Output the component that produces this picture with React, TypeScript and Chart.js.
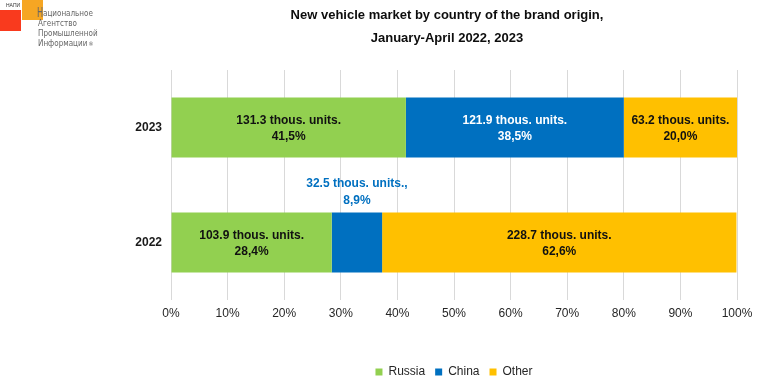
import React, { useEffect, useRef } from "react";
import { Chart, registerables } from "chart.js";

Chart.register(...registerables);

const years = ["2023", "2022"];
const seriesNames = ["Russia", "China", "Other"];
const russiaPct = [41.5, 28.4];
const chinaPct = [38.5, 8.9];
const otherPct = [20.0, 62.6];
const russiaUnits = [131.3, 103.9];
const chinaUnits = [121.9, 32.5];
const otherUnits = [63.2, 228.7];
const seriesColors = ["#92D050", "#0070C0", "#FFC000"];
const insideLabelColors = ["#111111", "#ffffff", "#111111"];
const titleLines = ["New vehicle market by country of the brand origin,", "January-April 2022, 2023"];

const FONT = "'Liberation Sans', Arial, sans-serif";
const unitsBySeries = [russiaUnits, chinaUnits, otherUnits];

const barLabelPlugin = {
  id: "barLabels",
  afterDatasetsDraw(chart: any) {
    const ctx = chart.ctx;
    ctx.save();
    ctx.font = `bold 12px ${FONT}`;
    ctx.textAlign = "center";
    ctx.textBaseline = "middle";
    chart.data.datasets.forEach((ds: any, di: number) => {
      const meta = chart.getDatasetMeta(di);
      meta.data.forEach((bar: any, i: number) => {
        const p = bar.getProps(["x", "y", "base", "height"], true);
        const cx = (p.x + p.base) / 2;
        const w = Math.abs(p.x - p.base);
        const pct = ds.data[i] as number;
        const pctText = pct.toFixed(1).replace(".", ",") + "%";
        let line1 = `${unitsBySeries[di][i].toFixed(1)} thous. units.`;
        if (w < 70) {
          line1 += ",";
          const top = p.y - p.height / 2;
          ctx.fillStyle = seriesColors[di];
          ctx.fillText(line1, cx, top - 29);
          ctx.fillText(pctText, cx, top - 12);
        } else {
          ctx.fillStyle = insideLabelColors[di];
          ctx.fillText(line1, cx, p.y - 7);
          ctx.fillText(pctText, cx, p.y + 9);
        }
      });
    });
    ctx.restore();
  },
};

const LOGO_FONT = "'DejaVu Sans Condensed', 'Liberation Sans Narrow', Arial, sans-serif";

export default function App() {
  const canvasRef = useRef<HTMLCanvasElement | null>(null);

  useEffect(() => {
    document.body.style.margin = "0";
    const canvas = canvasRef.current;
    if (!canvas) return;
    const pctSeries = [russiaPct, chinaPct, otherPct];
    const chart = new Chart(canvas, {
      type: "bar",
      data: {
        labels: years,
        datasets: seriesNames.map((name, k) => ({
          label: name,
          data: pctSeries[k],
          backgroundColor: seriesColors[k],
          borderWidth: 0,
          barPercentage: 0.52,
          categoryPercentage: 1,
        })),
      },
      options: {
        indexAxis: "y",
        responsive: false,
        animation: false,
        layout: { padding: { top: 70, right: 31, left: 0, bottom: -6 } },
        scales: {
          x: {
            stacked: true,
            min: 0,
            max: 100,
            ticks: {
              stepSize: 10,
              callback: (v: any) => `${v}%`,
              font: { size: 12, family: FONT },
              color: "#262626",
              padding: 6,
              maxRotation: 0,
            },
            grid: { color: "#d9d9d9", drawTicks: false, lineWidth: 1 },
            border: { display: false },
            afterFit: (s: any) => {
              s.height = 56;
            },
          },
          y: {
            stacked: true,
            grid: { display: false, drawTicks: false },
            border: { display: false },
            ticks: {
              font: { size: 12, weight: "bold", family: FONT },
              color: "#1a1a1a",
              padding: 9,
            },
            afterFit: (s: any) => {
              s.width = 171;
            },
          },
        },
        plugins: {
          legend: {
            position: "bottom",
            fullSize: false,
            labels: {
              boxWidth: 7,
              boxHeight: 7,
              padding: 10,
              font: { size: 12, family: FONT },
              color: "#262626",
            },
          },
          title: { display: false },
          tooltip: { enabled: false },
        },
      },
      plugins: [barLabelPlugin],
    } as any);
    return () => chart.destroy();
  }, []);

  const logoText: React.CSSProperties = {
    position: "absolute",
    fontFamily: LOGO_FONT,
    fontSize: 8,
    lineHeight: "10px",
    color: "#666666",
    whiteSpace: "nowrap",
  };

  return (
    <div style={{ position: "absolute", left: 0, top: 0, width: 768, height: 382, background: "#fff", overflow: "hidden" }}>
      <canvas ref={canvasRef} width={768} height={382} style={{ display: "block" }} />
      <div
        style={{
          position: "absolute",
          left: 0,
          top: 3,
          width: 894,
          textAlign: "center",
          fontFamily: FONT,
          fontWeight: "bold",
          fontSize: 13,
          lineHeight: "23px",
          color: "#0d0d0d",
        }}
      >
        {titleLines.map((t) => (
          <div key={t}>{t}</div>
        ))}
      </div>
      {/* logo */}
      <div style={{ position: "absolute", left: 0, top: 10, width: 21, height: 21, background: "#f93a1e" }} />
      <div style={{ position: "absolute", left: 22, top: 0, width: 21, height: 20, background: "#f6a623" }} />
      <div
        style={{
          position: "absolute",
          left: 6,
          top: 2,
          fontFamily: "'Liberation Sans', Arial, sans-serif",
          fontSize: 5,
          lineHeight: "6px",
          color: "#333",
        }}
      >
        НАПИ
      </div>
      <div
        style={{
          position: "absolute",
          left: 37,
          top: 4,
          fontFamily: "'Liberation Sans Narrow', 'DejaVu Sans Condensed', Arial, sans-serif",
          fontSize: 14,
          lineHeight: "16px",
          color: "#666666",
          transform: "scaleX(0.65)",
          transformOrigin: "left top",
        }}
      >
        Н
      </div>
      <div style={{ ...logoText, left: 43, top: 9 }}>ациональное</div>
      <div style={{ ...logoText, left: 38, top: 19 }}>Агентство</div>
      <div style={{ ...logoText, left: 38, top: 29 }}>Промышленной</div>
      <div style={{ ...logoText, left: 38, top: 39 }}>
        Информации<span style={{ fontSize: 6, verticalAlign: "top", marginLeft: 1 }}>®</span>
      </div>
    </div>
  );
}
